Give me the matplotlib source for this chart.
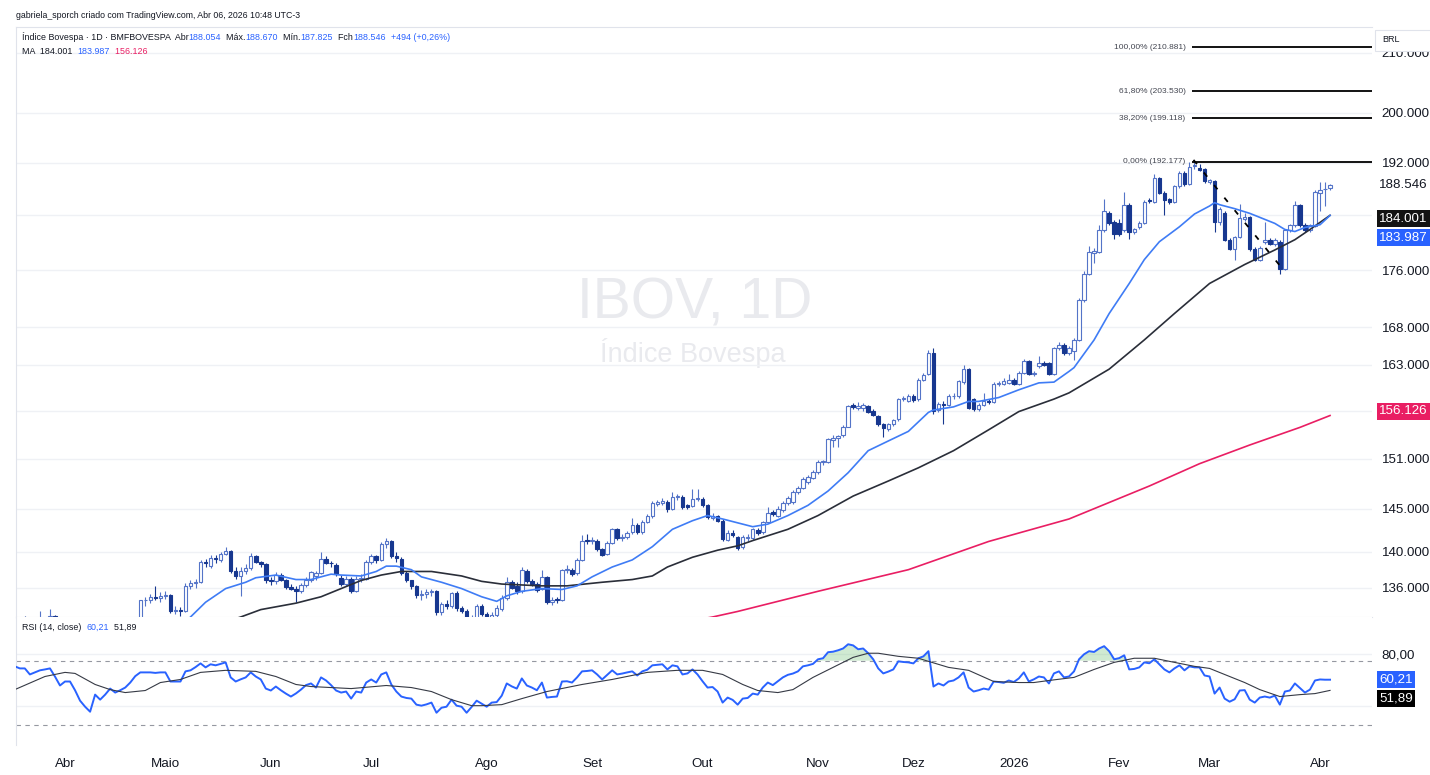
import numpy as np
import pandas as pd
import matplotlib
matplotlib.use("Agg")
import matplotlib.pyplot as plt
from matplotlib.ticker import FixedLocator, NullLocator, NullFormatter
from matplotlib.patches import Rectangle

plt.rcParams['font.family'] = ['Liberation Sans', 'DejaVu Sans']

# pregões da B3 (dias úteis menos feriados)
feriados = ["2025-04-18", "2025-04-21", "2025-05-01", "2025-06-19", "2025-11-20",
            "2025-12-24", "2025-12-25", "2025-12-31", "2026-01-01", "2026-02-16",
            "2026-02-17", "2026-04-03"]
dias = pd.bdate_range("2025-03-18", "2026-04-06")
dias = dias[~dias.isin(pd.to_datetime(feriados))]

# OHLC diário (mil pontos), de 18/03/2025 a 06/04/2026
abertura = [
    130.8, 131.5, 132.5, 132.3, 132.3, 131.3, 132.1, 132.0, 132.9, 131.9,
    130.3, 131.1, 131.2, 131.1, 127.3, 125.6, 123.9, 127.8, 126.0, 127.7,
    128.2, 129.2, 128.2, 129.6, 130.5, 132.2, 134.6, 134.7, 135.0, 134.9,
    135.1, 135.2, 133.5, 133.6, 133.4, 136.2, 136.5, 136.6, 138.9, 138.4,
    139.3, 139.1, 139.8, 140.1, 137.9, 137.3, 137.8, 138.2, 139.5, 138.9,
    138.6, 136.8, 136.7, 137.4, 136.9, 136.1, 135.9, 135.6, 136.3, 136.9,
    137.3, 137.6, 139.2, 138.8, 138.5, 137.1, 136.4, 137.0, 135.6, 137.0,
    137.0, 138.9, 139.5, 139.1, 140.9, 141.3, 139.5, 139.2, 137.6, 136.8,
    136.2, 135.2, 135.3, 135.5, 135.6, 133.3, 134.2, 134.0, 135.4, 133.8,
    133.5, 132.2, 132.7, 134.0, 133.1, 132.5, 133.0, 133.7, 134.9, 136.6,
    136.2, 135.6, 137.9, 136.7, 136.4, 135.9, 137.2, 134.4, 134.8, 134.6,
    138.0, 138.0, 137.6, 139.1, 141.4, 141.2, 141.3, 140.3, 139.8, 141.0,
    142.6, 141.6, 141.7, 142.3, 143.1, 142.3, 143.5, 144.1, 145.6, 145.7,
    145.8, 145.0, 146.4, 146.4, 145.4, 145.3, 146.2, 146.2, 145.5, 143.9,
    144.1, 143.6, 141.4, 142.2, 141.7, 140.6, 141.6, 141.6, 142.5, 142.3,
    143.4, 144.6, 144.2, 144.8, 145.7, 145.8, 147.0, 147.5, 148.2, 148.7,
    149.4, 150.6, 150.6, 153.3, 153.6, 153.9, 155.0, 157.7, 157.4, 157.3,
    157.6, 157.0, 156.3, 155.3, 154.7, 155.3, 155.9, 158.5, 158.3, 158.9,
    158.5, 161.0, 161.8, 164.6, 157.1, 157.9, 157.8, 158.9, 158.9, 160.7,
    162.4, 158.5, 157.2, 157.8, 158.3, 158.1, 160.5, 160.5, 160.6, 161.0,
    160.5, 161.9, 163.5, 161.8, 162.8, 163.2, 163.2, 161.8, 165.2, 165.6,
    164.6, 164.8, 166.3, 171.8, 175.5, 178.5, 178.6, 181.8, 184.3, 183.0,
    182.9, 181.8, 185.6, 181.6, 182.2, 182.9, 186.3, 186.0, 189.6, 187.4,
    186.4, 186.0, 188.4, 190.5, 188.8, 191.5, 191.2, 191.0, 189.0, 189.2,
    183.0, 184.4, 180.4, 179.1, 180.8, 183.4, 183.7, 179.1, 177.5, 180.0,
    180.4, 179.8, 180.1, 176.2, 181.8, 182.5, 185.5, 182.6, 181.8, 182.4,
    187.4, 188.0, 188.054]
maxima = [
    131.8, 132.7, 132.9, 132.8, 132.4, 133.4, 132.6, 133.7, 133.0, 132.0,
    131.4, 131.8, 131.6, 131.2, 127.9, 128.2, 128.3, 127.9, 128.0, 128.9,
    129.5, 129.4, 129.8, 130.9, 132.6, 134.7, 135.0, 135.3, 136.2, 135.5,
    135.6, 135.3, 134.0, 133.9, 136.5, 136.9, 137.0, 139.1, 139.2, 139.6,
    139.7, 140.0, 140.6, 140.2, 138.3, 138.3, 138.6, 139.9, 139.7, 139.0,
    138.7, 137.2, 137.7, 137.6, 137.0, 136.4, 136.2, 136.5, 137.2, 137.9,
    137.8, 140.0, 139.5, 139.0, 138.7, 137.4, 137.3, 137.2, 137.3, 137.5,
    139.1, 139.8, 139.7, 141.1, 141.6, 141.4, 140.0, 139.4, 137.8, 136.9,
    136.3, 135.7, 135.8, 135.9, 135.7, 134.4, 134.6, 135.5, 135.6, 134.0,
    133.7, 133.0, 134.2, 134.2, 133.3, 133.3, 134.1, 135.2, 137.2, 136.9,
    136.6, 138.3, 138.1, 137.0, 136.6, 138.0, 137.3, 135.0, 135.0, 138.1,
    138.5, 138.2, 139.3, 141.9, 142.0, 141.7, 141.5, 140.5, 141.2, 142.8,
    142.8, 142.1, 142.4, 143.9, 143.3, 143.7, 144.4, 145.9, 146.0, 146.3,
    146.0, 147.0, 146.8, 146.6, 145.6, 147.3, 147.3, 146.4, 145.6, 144.5,
    144.3, 143.8, 142.5, 142.5, 141.8, 141.9, 142.0, 142.8, 142.7, 143.6,
    145.2, 144.9, 145.3, 145.9, 146.5, 147.2, 147.7, 148.8, 149.0, 149.6,
    150.8, 150.9, 153.6, 154.0, 154.0, 155.2, 157.8, 158.0, 158.1, 158.0,
    157.8, 157.2, 156.5, 155.5, 155.5, 156.0, 158.7, 158.9, 159.2, 159.1,
    161.2, 161.9, 165.0, 165.2, 158.1, 158.2, 159.1, 159.3, 161.0, 163.0,
    162.5, 158.7, 158.0, 159.3, 158.5, 160.7, 160.8, 161.2, 161.8, 161.3,
    162.1, 163.8, 163.6, 162.2, 164.2, 163.5, 163.4, 165.4, 166.0, 165.9,
    165.5, 166.6, 172.0, 175.8, 179.5, 179.2, 182.6, 186.4, 184.7, 183.3,
    183.5, 187.5, 185.8, 182.1, 183.1, 186.3, 186.6, 190.3, 189.8, 187.6,
    186.6, 188.6, 190.7, 190.8, 192.1, 192.177, 191.8, 191.2, 189.5, 189.4,
    185.2, 184.6, 180.6, 181.0, 185.7, 184.3, 183.9, 179.3, 179.5, 183.0,
    180.7, 180.6, 180.3, 182.0, 182.7, 186.2, 185.7, 182.8, 182.7, 187.8,
    189.0, 189.0, 188.670]
minima = [
    130.6, 131.2, 131.9, 131.7, 130.9, 131.2, 131.6, 131.9, 131.6, 130.1,
    129.8, 130.4, 129.9, 127.0, 123.5, 123.7, 123.5, 125.3, 125.8, 127.4,
    127.9, 127.6, 128.0, 129.3, 130.4, 132.0, 134.0, 134.3, 134.6, 134.4,
    134.8, 133.2, 133.1, 132.9, 133.3, 135.9, 136.0, 136.5, 138.3, 138.2,
    138.8, 138.9, 139.6, 137.6, 137.0, 135.1, 137.5, 138.0, 138.8, 138.3,
    136.5, 136.3, 136.4, 136.7, 135.9, 135.7, 134.4, 135.4, 136.1, 136.6,
    136.9, 137.5, 138.6, 138.3, 137.3, 136.2, 136.2, 135.4, 135.5, 136.6,
    136.9, 138.6, 138.7, 139.0, 140.4, 139.3, 138.9, 137.4, 136.6, 135.9,
    134.9, 134.6, 134.9, 135.1, 133.0, 133.0, 133.7, 133.8, 133.5, 133.2,
    132.0, 131.9, 132.5, 132.9, 132.2, 132.3, 132.8, 133.4, 134.7, 135.8,
    135.3, 135.4, 136.5, 136.2, 135.5, 135.7, 134.2, 134.1, 134.3, 134.5,
    137.6, 137.3, 137.4, 139.0, 140.9, 140.9, 140.1, 139.5, 139.6, 140.9,
    141.4, 141.3, 141.5, 142.1, 142.1, 142.1, 143.3, 143.9, 145.3, 145.4,
    144.6, 144.9, 146.0, 145.0, 145.0, 145.2, 145.9, 145.2, 143.8, 143.7,
    143.4, 141.2, 141.2, 141.7, 140.2, 140.3, 141.3, 141.4, 141.9, 142.1,
    143.3, 144.1, 144.0, 144.6, 145.5, 145.6, 146.8, 147.3, 148.0, 148.5,
    149.2, 150.3, 150.5, 152.4, 152.4, 153.7, 154.9, 157.2, 157.1, 157.0,
    156.7, 156.3, 155.1, 153.7, 154.5, 155.1, 155.7, 158.2, 158.1, 158.1,
    158.3, 160.8, 161.6, 156.6, 156.9, 155.3, 157.6, 158.5, 158.7, 160.5,
    157.2, 157.0, 157.0, 157.6, 157.9, 158.0, 160.2, 160.3, 160.4, 160.3,
    160.3, 161.7, 161.6, 161.5, 162.6, 162.8, 161.6, 161.6, 165.0, 164.3,
    164.3, 163.6, 166.1, 171.5, 175.3, 177.0, 178.4, 181.5, 182.5, 180.5,
    181.0, 181.5, 180.5, 181.2, 181.9, 182.7, 185.8, 185.8, 187.2, 184.0,
    185.7, 185.8, 188.2, 188.5, 188.6, 191.0, 190.7, 188.9, 188.7, 181.5,
    182.6, 180.2, 178.9, 177.5, 180.6, 183.2, 178.8, 177.3, 177.3, 179.8,
    179.6, 179.5, 175.4, 176.0, 181.5, 182.3, 182.3, 181.6, 181.5, 182.2,
    184.6, 185.4, 187.825]
fechamento = [
    131.5, 132.5, 132.3, 132.3, 131.3, 132.1, 132.0, 132.9, 131.9, 130.3,
    131.1, 131.2, 131.1, 127.3, 125.6, 123.9, 127.8, 126.0, 127.7, 128.2,
    129.2, 128.2, 129.6, 130.5, 132.2, 134.6, 134.7, 135.0, 134.9, 135.1,
    135.2, 133.5, 133.6, 133.4, 136.2, 136.5, 136.6, 138.9, 138.7, 139.3,
    139.2, 139.8, 140.1, 137.8, 137.3, 137.8, 138.2, 139.5, 138.9, 138.6,
    136.8, 136.7, 137.4, 136.9, 136.1, 135.9, 135.6, 136.3, 136.9, 137.7,
    137.6, 139.2, 138.8, 138.7, 137.5, 136.4, 137.0, 135.6, 137.0, 137.1,
    138.9, 139.5, 139.1, 140.9, 141.3, 139.5, 139.3, 137.6, 136.8, 136.2,
    135.2, 135.3, 135.5, 135.6, 133.3, 134.2, 134.0, 135.4, 133.8, 133.5,
    132.2, 132.7, 134.0, 133.1, 132.5, 133.0, 133.8, 134.9, 136.6, 136.0,
    135.6, 138.0, 136.7, 136.4, 135.7, 137.2, 134.4, 134.7, 134.6, 138.0,
    138.1, 137.5, 139.1, 141.2, 141.2, 141.4, 140.3, 139.7, 141.0, 142.6,
    141.6, 141.7, 142.2, 143.1, 142.3, 143.5, 144.2, 145.7, 145.8, 145.9,
    145.0, 146.4, 146.5, 145.2, 145.2, 146.2, 146.3, 145.4, 144.0, 144.2,
    143.6, 141.5, 142.2, 141.9, 140.5, 141.7, 141.7, 142.6, 142.2, 143.4,
    144.5, 144.4, 145.0, 145.7, 146.3, 147.0, 147.5, 148.5, 148.8, 149.4,
    150.6, 150.7, 153.4, 153.6, 153.8, 155.0, 157.6, 157.5, 157.6, 157.7,
    156.9, 156.5, 155.3, 154.8, 155.3, 155.8, 158.5, 158.7, 158.9, 158.4,
    161.0, 161.6, 164.6, 157.0, 157.9, 157.8, 158.9, 158.9, 160.8, 162.4,
    157.4, 157.2, 157.8, 158.3, 158.1, 160.5, 160.6, 160.9, 161.0, 160.5,
    161.9, 163.5, 161.8, 161.9, 163.2, 163.0, 161.8, 165.2, 165.6, 164.5,
    165.2, 166.3, 171.8, 175.5, 178.6, 178.7, 181.8, 184.6, 182.8, 181.3,
    181.3, 185.6, 181.5, 181.9, 182.9, 186.0, 186.1, 189.6, 187.4, 186.3,
    186.0, 188.4, 190.5, 188.7, 191.4, 191.7, 190.9, 189.2, 189.3, 183.0,
    184.9, 180.4, 179.1, 180.8, 183.6, 183.7, 179.0, 177.5, 179.2, 180.4,
    179.8, 180.4, 176.2, 181.8, 182.5, 185.5, 182.5, 181.8, 182.5, 187.5,
    187.8, 188.0, 188.546]

# médias móveis: (pregão, valor), pregão 0 = 01/04/2025
mm_azul_x = [-10, 0, 10, 20, 25, 28, 32, 36, 38, 42, 46, 49, 53, 55, 59, 62, 64, 66,
             69, 71, 75, 79, 83, 86, 88, 91, 95, 99, 102, 105, 109, 113, 117, 121,
             125, 128, 131, 135, 137, 140, 144, 148, 152, 156, 160, 164, 168, 172,
             173, 177, 180, 182, 186, 190, 194, 197, 200, 201, 205, 208, 212, 215,
             218, 222, 225, 228, 229, 230, 233, 236, 238, 241, 243, 245, 247, 250, 252]
mm_azul = [126.5, 129.0, 128.8, 130.2, 132.8, 134.4, 135.9, 136.6, 137.1, 137.4, 136.9,
           136.9, 137.5, 137.4, 137.3, 137.8, 138.4, 138.4, 138.0, 137.2, 136.6, 135.9,
           135.0, 134.5, 135.1, 135.6, 135.9, 135.8, 136.2, 137.2, 138.3, 139.1, 140.6,
           142.6, 143.6, 144.2, 143.8, 143.2, 142.9, 143.2, 144.2, 145.4, 147.1, 149.3,
           152.0, 153.2, 154.4, 156.8, 157.1, 157.5, 158.2, 158.2, 158.7, 159.7, 160.6,
           160.7, 162.1, 162.6, 166.3, 169.9, 174.1, 177.5, 180.1, 182.3, 184.2, 185.4,
           185.9, 185.6, 185.0, 184.3, 183.7, 182.8, 181.9, 181.6, 182.2, 182.6, 183.987]
mm_preta_x = [-10, 0, 10, 20, 28, 35, 39, 46, 51, 55, 59, 63, 67, 73, 79, 83, 87, 95,
              100, 107, 113, 117, 120, 125, 130, 134, 137, 144, 150, 157, 164, 170,
              177, 184, 190, 197, 200, 208, 215, 221, 228, 235, 241, 245, 248, 252]
mm_preta = [126.8, 127.8, 128.6, 130.0, 131.6, 132.8, 133.6, 134.3, 135.0, 135.9, 136.8,
            137.4, 137.8, 137.8, 137.3, 136.7, 136.4, 136.2, 136.2, 136.6, 136.9, 137.3,
            138.3, 139.4, 140.2, 140.7, 141.3, 142.6, 144.2, 146.5, 148.3, 149.9, 152.0,
            154.6, 156.9, 158.5, 159.3, 162.4, 166.3, 169.9, 174.1, 176.8, 178.9, 180.4,
            181.9, 184.001]
mm_rosa_x = [80, 110, 129, 134, 150, 168, 184, 200, 216, 226, 236, 246, 252]
mm_rosa = [128.6, 131.0, 132.8, 133.4, 135.6, 138.0, 141.2, 143.8, 147.7, 150.4, 152.7,
           154.9, 156.4]

# IFR(14) por pregão e sua média (pontos lidos)
ifr = [
    70.6, 69.0, 69.0, 64.3, 65.9, 67.5, 68.2, 69.0, 62.7, 55.7,
    58.8, 58.8, 52.0, 43.9, 39.2, 35.3, 48.6, 44.7, 48.6, 53.3,
    50.2, 52.0, 54.1, 58.0, 63.0, 65.9, 65.9, 65.9, 65.5, 65.9,
    65.9, 58.8, 58.8, 58.8, 66.7, 67.5, 70.0, 72.9, 69.8, 72.2,
    71.4, 72.5, 73.7, 62.0, 58.8, 60.5, 62.0, 65.9, 62.7, 60.4,
    53.3, 51.8, 54.9, 52.0, 49.4, 47.1, 49.5, 52.5, 56.0, 57.3,
    54.1, 62.0, 59.6, 56.0, 51.8, 50.2, 51.0, 45.5, 51.0, 50.2,
    58.0, 60.4, 58.0, 64.3, 65.9, 56.5, 51.0, 47.1, 46.0, 45.5,
    40.8, 40.0, 41.0, 42.4, 34.5, 38.4, 39.2, 44.7, 40.0, 39.2,
    34.5, 39.0, 43.9, 41.6, 39.2, 42.4, 42.8, 47.8, 57.3, 55.0,
    53.3, 61.2, 55.7, 54.1, 52.0, 58.0, 46.3, 46.8, 47.1, 58.8,
    59.0, 58.0, 62.0, 66.7, 67.0, 67.5, 64.3, 60.4, 64.0, 67.5,
    64.3, 65.0, 65.9, 66.7, 63.5, 66.7, 68.0, 71.4, 71.8, 72.2,
    68.2, 71.4, 70.6, 64.3, 65.1, 68.2, 64.3, 59.0, 54.1, 54.5,
    51.0, 42.4, 46.3, 44.5, 40.8, 45.5, 46.0, 49.4, 48.6, 54.1,
    58.0, 56.0, 59.0, 62.0, 64.0, 65.0, 66.7, 70.6, 71.4, 72.5,
    76.1, 76.9, 81.6, 82.0, 83.1, 84.5, 87.8, 86.9, 83.9, 84.5,
    80.8, 76.1, 69.0, 65.1, 66.5, 68.2, 74.5, 74.0, 73.7, 72.9,
    76.9, 78.4, 82.4, 54.9, 57.3, 55.7, 58.8, 59.6, 62.0, 65.9,
    54.1, 51.0, 52.0, 53.3, 52.5, 58.8, 58.4, 57.8, 59.6, 58.4,
    61.2, 65.9, 58.8, 60.5, 62.7, 62.0, 57.3, 65.1, 66.7, 62.0,
    62.7, 66.7, 76.1, 80.0, 82.4, 81.8, 84.5, 86.3, 82.4, 76.1,
    77.0, 79.2, 68.2, 68.6, 69.8, 73.7, 73.0, 76.1, 72.2, 68.2,
    65.9, 69.0, 71.4, 67.5, 70.6, 69.8, 69.8, 63.5, 62.7, 49.4,
    54.1, 45.5, 43.1, 45.0, 51.8, 52.1, 44.7, 42.4, 46.3, 47.1,
    46.3, 47.8, 40.8, 51.0, 51.8, 57.3, 53.8, 50.2, 52.5, 59.6,
    60.4, 60.2, 60.21]
ifr_mm_x = [-10, -4, 0, 2, 6, 9, 12, 16, 19, 23, 27, 32, 38, 42, 46, 49, 57, 64, 69,
            73, 77, 81, 83, 87, 91, 96, 103, 109, 116, 122, 127, 131, 135, 138, 142,
            145, 149, 153, 157, 160, 162, 166, 170, 172, 176, 180, 185, 190, 193, 196,
            201, 205, 209, 213, 217, 221, 225, 228, 232, 235, 238, 242, 246, 249, 252]
ifr_mm = [52.5, 62.7, 65.9, 65.1, 56.5, 52.5, 50.2, 51.8, 58.0, 60.4, 65.9, 67.5, 66.7,
          62.7, 56.5, 54.9, 53.3, 55.7, 54.1, 51.0, 44.7, 40.0, 40.0, 40.8, 45.5, 51.0,
          56.5, 60.4, 65.9, 67.5, 67.5, 64.3, 56.5, 51.8, 50.2, 52.5, 62.0, 69.8, 77.6,
          80.8, 80.8, 78.4, 76.9, 74.5, 69.8, 67.5, 58.8, 58.0, 58.0, 59.6, 62.0, 68.2,
          73.7, 76.9, 76.9, 73.7, 70.6, 69.0, 62.7, 58.0, 52.5, 47.1, 48.6, 49.4, 51.89]

# Fibonacci e linha tracejada de tendência
fib_niveis = [0.0, 38.2, 61.8, 100.0]
fib_precos = [192.177, 199.118, 203.530, 210.881]
fib_inicio = 224.6
tend_x = [224.8, 243.2]
tend_y = [192.47, 175.6]

eixo_precos = [136, 140, 145, 151, 157, 163, 168, 176, 184, 192, 200, 210]
nomes_mes = {2: 'Fev', 3: 'Mar', 4: 'Abr', 5: 'Maio', 6: 'Jun', 7: 'Jul', 8: 'Ago',
             9: 'Set', 10: 'Out', 11: 'Nov', 12: 'Dez'}

AZUL = '#2962ff'
ALTA = '#5474c8'
BAIXA = '#17378f'
ROSA = '#e91e63'
ESCURO = '#131722'

W, H = 1430, 775
fig = plt.figure(figsize=(W / 100, H / 100), dpi=100)
fig.patch.set_facecolor('white')

L, R, TOP, MID, BOT = 16, 1372, 27, 617, 745
ax = fig.add_axes([L / W, 1 - MID / H, (R - L) / W, (MID - TOP) / H])
ax2 = fig.add_axes([L / W, 1 - BOT / H, (R - L) / W, (BOT - MID) / H], sharex=ax)

x = np.arange(len(dias)) - 10
o = np.array(abertura)
h = np.array(maxima)
lo = np.array(minima)
c = np.array(fechamento)
sobe = c >= o
cores = np.where(sobe, ALTA, BAIXA)

ax.set_yscale('log')
ax.vlines(x, lo, h, colors=cores, lw=0.8, zorder=2)
base = np.minimum(o, c)
alt = np.abs(c - o)
ax.bar(x[sobe], alt[sobe], bottom=base[sobe], width=0.7, facecolor='white',
       edgecolor=ALTA, lw=0.8, zorder=3)
ax.bar(x[~sobe], alt[~sobe], bottom=base[~sobe], width=0.7, facecolor=BAIXA,
       edgecolor=BAIXA, lw=0.8, zorder=3)

ax.plot(mm_rosa_x, mm_rosa, color=ROSA, lw=1.2, zorder=4)
ax.plot(mm_preta_x, mm_preta, color='#2a2e39', lw=1.2, zorder=4)
ax.plot(mm_azul_x, mm_azul, color='#3f7cf5', lw=1.2, zorder=4)

x_dir = (R - 65) / 5.02
x_esq = (L - 65) / 5.02
ax.set_xlim(x_esq, x_dir)
ax.set_ylim(132.8, 214.4)

for n, p in zip(fib_niveis, fib_precos):
    ax.hlines(p, fib_inicio, x_dir, color='black', lw=1.3, zorder=5)
    rot = f"{n:.2f}".replace('.', ',') + f"% ({p:.3f})"
    ax.annotate(rot, xy=(fib_inicio, p), xytext=(-5, 0), textcoords='offset points',
                ha='right', va='center', fontsize=6, color='#434651')
ax.plot(tend_x, tend_y, color='black', lw=1.3, ls=(0, (3, 6)), zorder=6)

ax.yaxis.tick_right()
ax.yaxis.set_major_locator(FixedLocator(eixo_precos))
ax.yaxis.set_minor_locator(NullLocator())
ax.yaxis.set_minor_formatter(NullFormatter())
ax.set_yticklabels([f"{v:.3f}" for v in eixo_precos])
ax.tick_params(axis='y', length=0, pad=7, labelsize=9.6, labelcolor=ESCURO)
ax.tick_params(axis='x', bottom=False, labelbottom=False)
ax.grid(axis='y', color='#eff1f5', lw=1)
ax.spines['right'].set_visible(False)
for s in ['left', 'top', 'bottom']:
    ax.spines[s].set_color('#e0e3eb')

# marca d'água
ax.text(695 / W, 1 - 303 / H, "IBOV, 1D", transform=fig.transFigure, ha='center',
        va='center', fontsize=41, color='#e9eaee', zorder=0.5)
ax.text(693 / W, 1 - 353 / H, "Índice Bovespa", transform=fig.transFigure,
        ha='center', va='center', fontsize=19.5, color='#e9eaee', zorder=0.5)

# rótulos na escala de preço
def caixa(eixo, txt, val, cor, desl=0, cor_txt='white'):
    eixo.annotate(txt, xy=(1, val), xycoords=('axes fraction', 'data'),
                  xytext=(5, desl), textcoords='offset points', ha='left', va='center',
                  fontsize=9.6, color=cor_txt, annotation_clip=False, zorder=10,
                  bbox=dict(boxstyle='square,pad=0.18', fc=cor, ec='none'))

caixa(ax, "188.546", fechamento[-1], 'white', 0, ESCURO)
caixa(ax, "184.001", mm_preta[-1], '#131313', -2.5)
caixa(ax, "183.987", mm_azul[-1], AZUL, -16)
caixa(ax, "156.126", mm_rosa[-1], ROSA, 3)

# painel IFR
ax2.plot(x, ifr, color=AZUL, lw=1.4, zorder=3)
ax2.plot(ifr_mm_x, ifr_mm, color='#363a45', lw=0.8, zorder=3)
ifr_arr = np.array(ifr)
ax2.fill_between(x, ifr_arr, 75, where=ifr_arr > 75, interpolate=True,
                 color='#66bb6a', alpha=0.3, lw=0, zorder=2)
for b in (75, 25):
    ax2.axhline(b, color='#9598a1', lw=0.8, ls=(0, (4, 4)), zorder=1)
ax2.set_ylim(9.4, 109)
ax2.yaxis.tick_right()
ax2.set_yticks([40, 80])
ax2.set_yticklabels(["", "80,00"])
ax2.tick_params(axis='y', length=0, pad=7, labelsize=9.6, labelcolor=ESCURO)
ax2.grid(axis='y', color='#eff1f5', lw=1)
for s in ['right', 'top', 'bottom']:
    ax2.spines[s].set_visible(False)
ax2.spines['left'].set_color('#e0e3eb')
caixa(ax2, "60,21", ifr[-1], AZUL, 0)
caixa(ax2, "51,89", ifr_mm[-1], '#000000', -6)

# eixo de tempo
pos, rot = [], []
for i in range(1, len(dias)):
    if dias[i].month != dias[i - 1].month:
        pos.append(x[i])
        rot.append(str(dias[i].year) if dias[i].month == 1 else nomes_mes[dias[i].month])
ax2.set_xticks(pos)
ax2.set_xticklabels(rot)
ax2.tick_params(axis='x', length=0, pad=9.5, labelsize=9.6, labelcolor=ESCURO)

# cabeçalho e legendas dos painéis
def linha(eixo, x0, y0, partes, tam):
    t = eixo.text(x0 / W, 1 - y0 / H, partes[0][0], color=partes[0][1], fontsize=tam,
                  va='center', ha='left', transform=fig.transFigure, zorder=8)
    for s, cor in partes[1:]:
        t = eixo.annotate(s, xy=(1, 0), xycoords=t, va='bottom', ha='left', color=cor,
                          fontsize=tam, annotation_clip=False, zorder=8)

linha(ax, 16, 15, [("gabriela_sporch criado com TradingView.com, Abr 06, 2026 10:48 UTC-3",
                    ESCURO)], 6.3)
linha(ax, 22, 37, [("Índice Bovespa · 1D · BMFBOVESPA  Abr", ESCURO), ("188.054", AZUL),
                   ("  Máx.", ESCURO), ("188.670", AZUL), ("  Mín.", ESCURO),
                   ("187.825", AZUL), ("  Fch", ESCURO), ("188.546", AZUL),
                   ("  +494 (+0,26%)", AZUL)], 6.4)
linha(ax, 22, 51, [("MA  184.001  ", ESCURO), ("183.987", AZUL), ("  156.126", ROSA)], 6.4)
linha(ax2, 22, 627, [("RSI (14, close)  ", ESCURO), ("60,21", AZUL), ("  51,89", ESCURO)],
      6.4)

fig.add_artist(Rectangle((1375 / W, 1 - 51 / H), 60 / W, 21 / H, transform=fig.transFigure,
                         facecolor='white', edgecolor='#e0e3eb', lw=0.8, zorder=5))
fig.text(1382 / W, 1 - 40 / H, "BRL", fontsize=6.5, color=ESCURO, va='center', zorder=6)

fig.savefig("out.png", dpi=100, facecolor='white')
